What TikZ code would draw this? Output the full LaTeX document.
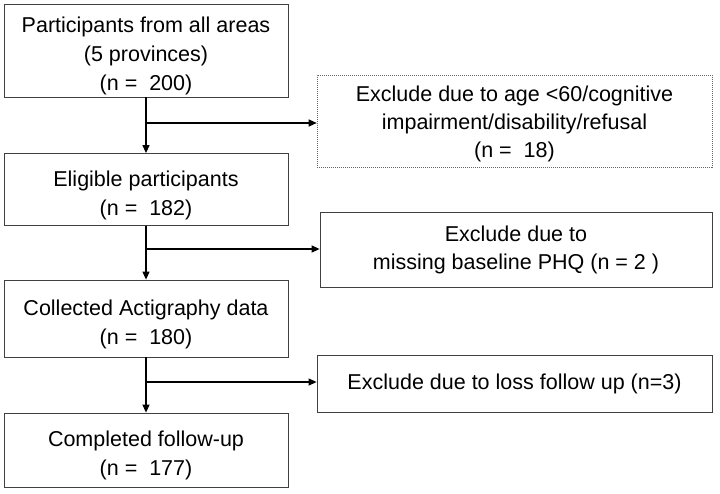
\documentclass[tikz,border=0pt]{standalone}
\usepackage{fontspec}
\setmainfont{Liberation Sans}
\usepackage{tikz}
\usetikzlibrary{arrows.meta}
\newcommand{\topgap}[1]{\rule{0pt}{#1}}
\tikzset{
    stagebox/.style={draw=black!75, line width=0.8pt, align=center, inner sep=0pt,
        minimum width=284pt, font=\fontsize{21.5}{29}\selectfont},
    exclbox/.style={stagebox, minimum width=395pt, font=\fontsize{21.5}{28}\selectfont},
    flow/.style={line width=1.2pt, -{Triangle[length=8pt, width=7pt]}}
}

\begin{document}
\begin{tikzpicture}[x=1pt, y=-1pt]
    \useasboundingbox (0,0) rectangle (720,493);

    % main stages
    \node[stagebox, minimum height=93pt] (all) at (146,50.5)
        {\topgap{26.5pt}Participants from all areas\\(5 provinces)\\(n =~~200)};
    \node[stagebox, minimum height=72pt] (elig) at (146,189.5)
        {\topgap{26.5pt}Eligible participants\\(n =~~182)};
    \node[stagebox, minimum height=77pt] (acti) at (146,318.5)
        {\topgap{26.5pt}Collected Actigraphy data\\(n =~~180)};
    \node[stagebox, minimum height=74pt] (done) at (146,450)
        {\topgap{26.5pt}Completed follow-up\\(n =~~177)};

    % exclusions
    \node[exclbox, minimum height=92pt, draw=black!60, line width=0.6pt,
        dash pattern=on 1.2pt off 0.8pt] (exage) at (514.5,121)
        {\topgap{20.7pt}Exclude due to age <60/cognitive\\impairment/disability/refusal\\(n =~~18)};
    \node[exclbox, minimum width=392pt, minimum height=75pt] (exphq) at (516,249.5)
        {Exclude due to\\missing baseline PHQ (n = 2 )};
    \node[exclbox, minimum height=57pt] (exloss) at (514.5,383.5)
        {Exclude due to loss follow up (n=3)};

    % connectors
    \coordinate (b1) at (146,123);
    \coordinate (b2) at (146,249);
    \coordinate (b3) at (146,382);
    \draw[flow] (all) -- (elig);
    \draw[flow] (elig) -- (acti);
    \draw[flow] (acti) -- (done);
    \draw[flow] (b1) -- (b1 -| exage.west);
    \draw[flow] (b2) -- (b2 -| exphq.west);
    \draw[flow] (b3) -- (b3 -| exloss.west);
\end{tikzpicture}
\end{document}
